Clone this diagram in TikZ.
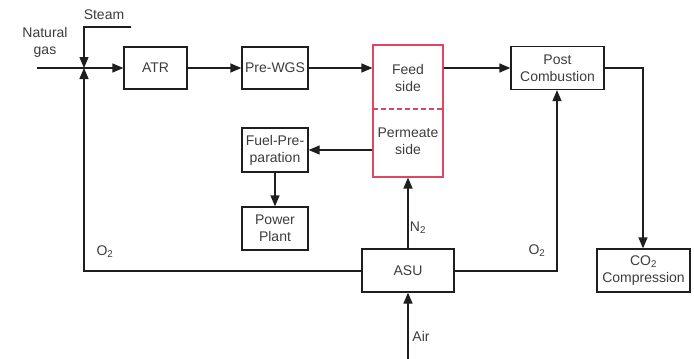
\documentclass[tikz,border=0pt]{standalone}
\usepackage{fontspec}
\setmainfont{Liberation Sans}
\usetikzlibrary{arrows.meta}
\definecolor{txt}{RGB}{60,60,60}
\definecolor{ln}{RGB}{30,30,30}
\definecolor{memred}{RGB}{222,70,100}
\begin{document}
\begin{tikzpicture}[x=1pt,y=-1pt,
  font=\fontsize{14}{17}\selectfont,
  box/.style={draw=ln,line width=1.3pt,rectangle,inner sep=0pt,align=center,text=txt},
  lbl/.style={text=txt,inner sep=0pt,align=center},
  conn/.style={draw=ln,line width=1.3pt},
  arr/.style={conn,-{Triangle[length=11pt,width=9pt]}}]
\useasboundingbox (0,0) rectangle (694,359);
% boxes
\node[box,minimum width=63pt,minimum height=42pt] (atr) at (155.5,68) {ATR};
\node[box,minimum width=66pt,minimum height=42pt] (wgs) at (275,68) {Pre-WGS};
\node[box,draw=memred,line width=1.1pt,minimum width=70pt,minimum height=132pt] (mem) at (408,111) {};
\node[lbl] (feed) at (408,78) {Feed\\side};
\node[lbl] (perm) at (408,141) {Permeate\\side};
\node[box,minimum width=93pt,minimum height=43pt] (post) at (557.5,68) {Post\\Combustion};
\node[box,minimum width=66pt,minimum height=44pt] (fuel) at (275,150) {Fuel-Pre-\\paration};
\node[box,minimum width=66pt,minimum height=43pt] (power) at (275,228.5) {Power\\Plant};
\node[box,minimum width=92pt,minimum height=43pt] (asu) at (408,270.5) {ASU};
\node[box,minimum width=93pt,minimum height=43pt] (co2) at (643.5,270.5) {CO\textsubscript{2}\\Compression};
% dashed divider
\coordinate (dl) at (373,109);
\coordinate (dr) at (443,109);
\draw[draw=memred,line width=1.1pt,dash pattern=on 5pt off 3pt] (dl) -- (dr);
% labels
\node[lbl] (ng) at (45,42) {Natural\\gas};
\node[lbl] (steam) at (104,15) {Steam};
\node[lbl] (o2l) at (105,252) {O\textsubscript{2}};
\node[lbl] (n2) at (418,228) {N\textsubscript{2}};
\node[lbl] (o2r) at (537,251) {O\textsubscript{2}};
\node[lbl] (air) at (421,336) {Air};
% coordinates
\coordinate (ngs) at (37,68);
\coordinate (j) at (84,68);
\coordinate (sts) at (131,27);
\coordinate (stc) at (84,27);
\coordinate (o2c) at (84,271);
\coordinate (airs) at (408,359);
\coordinate (o2rc) at (557,271);
\coordinate (postc) at (643,68);
% connectors
\draw[conn] (ngs) -- (j);
\draw[arr] (j) -- (atr.west |- j);
\draw[arr] (sts) -- (stc) -- (j);
\draw[arr] (asu.west |- o2c) -- (o2c) -- (j);
\draw[arr] (atr.east) -- (wgs.west);
\draw[arr] (wgs.east) -- (mem.west |- wgs.east);
\draw[arr] (mem.east |- post.west) -- (post.west);
\draw[arr] (mem.west |- fuel.east) -- (fuel.east);
\draw[arr] (fuel.south) -- (power.north);
\draw[arr] (asu.north) -- (mem.south);
\draw[arr] (airs) -- (asu.south);
\draw[arr] (asu.east |- o2rc) -- (o2rc) -- (post.south -| o2rc);
\draw[arr] (post.east |- postc) -- (postc) -- (co2.north -| postc);
\end{tikzpicture}
\end{document}
